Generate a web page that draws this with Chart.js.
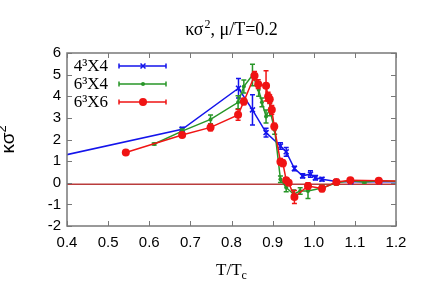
<!DOCTYPE html>
<html>
<head>
<meta charset="utf-8">
<script src="https://cdn.jsdelivr.net/npm/chart.js@4"></script>
<style>
  html, body { margin: 0; padding: 0; background: #fff; }
  #wrap { width: 428px; height: 300px; }
</style>
</head>
<body>
<div id="wrap"><canvas id="chart"></canvas></div>
<script>
// values
const seriesNames = ["4\u00b3X4", "6\u00b3X4", "6\u00b3X6"];

const blueX = [0.34, 0.68, 0.817, 0.851, 0.884, 0.919, 0.933, 0.953, 0.973, 0.992, 1.004, 1.02, 1.055, 1.09, 1.16, 1.22];
const blueY = [1.05, 2.47, 4.37, 3.37, 2.32, 1.70, 1.43, 0.66, 0.32, 0.40, 0.23, 0.16, 0.06, 0.05, 0.05, 0.05];
const blueErr = [0, 0.1, 0.45, 0.7, 0.2, 0.15, 0.2, 0.1, 0.1, 0.15, 0.1, 0.08, 0.05, 0.05, 0.05, 0];

const greenX = [0.612, 0.68, 0.749, 0.816, 0.83, 0.851, 0.866, 0.874, 0.884, 0.893, 0.905, 0.919, 0.933, 0.951, 0.967, 0.986, 1.02, 1.055, 1.089, 1.123, 1.158, 1.22];
const greenY = [1.79, 2.39, 2.93, 3.72, 4.45, 4.98, 4.3, 3.72, 3.06, 3.4, 2.44, 0.16, -0.22, -0.53, -0.38, -0.38, -0.24, 0.0, 0.09, 0.04, 0.09, 0.05];
const greenErr = [0.05, 0.1, 0.2, 0.3, 0.3, 0.5, 0.3, 0.2, 0.3, 0.3, 0.2, 0.15, 0.2, 0.2, 0.15, 0.35, 0.15, 0.1, 0.05, 0.05, 0.05, 0];

const redX = [0.543, 0.68, 0.749, 0.816, 0.83, 0.856, 0.865, 0.884, 0.889, 0.893, 0.898, 0.904, 0.919, 0.925, 0.933, 0.939, 0.953, 0.986, 1.02, 1.055, 1.089, 1.158, 1.22];
const redY = [1.40, 2.21, 2.56, 3.14, 3.76, 4.95, 4.56, 4.48, 3.99, 3.86, 3.37, 2.6, 0.97, 0.9, 0.12, 0.0, -0.66, -0.15, -0.27, 0.04, 0.12, 0.09, 0.07];
const redErr = [0.05, 0.1, 0.15, 0.25, 0.15, 0.2, 0.2, 0.7, 0.2, 0.2, 0.2, 0.15, 0.15, 0.15, 0.1, 0.1, 0.3, 0.15, 0.15, 0.05, 0.05, 0.05, 0];

const refLine = -0.07;

const xMin = 0.4, xMax = 1.2, xStep = 0.1;
const yMin = -2, yMax = 6, yStep = 1;

const BLUE = "rgb(20,20,235)";
const GREEN = "rgb(40,150,40)";
const RED = "rgb(240,20,20)";
const SERIF = "'Liberation Serif', 'DejaVu Serif', serif";
const SANS = "'Liberation Sans', Arial, sans-serif";

function points(xs, ys, errs) {
    return xs.map((x, i) => ({ x: x, y: ys[i], err: errs[i] }));
}

// text pieces with a raised part: [text, size, rise]
function drawPieces(ctx, family, pieces, x, y, align) {
    let total = 0;
    pieces.forEach(p => { ctx.font = p[1] + "px " + family; total += ctx.measureText(p[0]).width; });
    let cx = align === "center" ? x - total / 2 : x;
    ctx.textAlign = "left";
    ctx.textBaseline = "alphabetic";
    pieces.forEach(p => {
        ctx.font = p[1] + "px " + family;
        ctx.fillText(p[0], cx, y - p[2]);
        cx += ctx.measureText(p[0]).width;
    });
}

// draw the error bars of one dataset, through the scales
const errorBars = {
    id: "errorBars",
    afterDatasetDraw(chart, args) {
        const meta = args.meta;
        const ds = chart.data.datasets[args.index];
        const ys = chart.scales.y;
        const area = chart.chartArea;
        const ctx = chart.ctx;
        ctx.save();
        ctx.beginPath();
        ctx.rect(area.left, area.top, area.right - area.left, area.bottom - area.top);
        ctx.clip();
        ctx.strokeStyle = ds.borderColor;
        ctx.lineWidth = 1.5;
        meta.data.forEach((el, i) => {
            const p = ds.data[i];
            if (!p.err) return;
            const top = ys.getPixelForValue(p.y + p.err);
            const bot = ys.getPixelForValue(p.y - p.err);
            ctx.beginPath();
            ctx.moveTo(el.x, top); ctx.lineTo(el.x, bot);
            ctx.moveTo(el.x - 2.5, top); ctx.lineTo(el.x + 2.5, top);
            ctx.moveTo(el.x - 2.5, bot); ctx.lineTo(el.x + 2.5, bot);
            ctx.stroke();
        });
        ctx.restore();
    }
};

// gnuplot style frame, inward ticks, reference line, legend, titles
const frame = {
    id: "frame",
    beforeDatasetsDraw(chart) {
        const ctx = chart.ctx, a = chart.chartArea;
        const py = chart.scales.y.getPixelForValue(refLine);
        ctx.save();
        ctx.strokeStyle = "rgb(185,60,60)";
        ctx.lineWidth = 1.5;
        ctx.beginPath();
        ctx.moveTo(a.left, py); ctx.lineTo(a.right, py);
        ctx.stroke();
        ctx.restore();
    },
    afterDraw(chart) {
        const ctx = chart.ctx, a = chart.chartArea;
        const xs = chart.scales.x, ys = chart.scales.y;
        ctx.save();
        ctx.strokeStyle = "rgb(120,120,120)";
        ctx.lineWidth = 1.5;
        ctx.strokeRect(a.left, a.top, a.right - a.left, a.bottom - a.top);
        ctx.lineWidth = 1;
        ctx.beginPath();
        xs.ticks.forEach(t => {
            const px = Math.round(xs.getPixelForValue(t.value)) + 0.5;
            ctx.moveTo(px, a.bottom); ctx.lineTo(px, a.bottom - 5);
            ctx.moveTo(px, a.top); ctx.lineTo(px, a.top + 5);
        });
        ys.ticks.forEach(t => {
            const py = Math.round(ys.getPixelForValue(t.value)) + 0.5;
            ctx.moveTo(a.left, py); ctx.lineTo(a.left + 5, py);
            ctx.moveTo(a.right, py); ctx.lineTo(a.right - 5, py);
        });
        ctx.stroke();

        // legend
        const colors = [BLUE, GREEN, RED];
        const styles = ["crossRot", "circle", "circle"];
        const radii = [3.5, 2, 4];
        const widths = [1.5, 0, 0];
        seriesNames.forEach((name, i) => {
            const y = 66 + i * 18;
            ctx.fillStyle = "#000";
            ctx.font = "17px " + SERIF;
            ctx.textAlign = "right";
            ctx.textBaseline = "middle";
            ctx.fillText(name, 108, y + 1);
            ctx.strokeStyle = colors[i];
            ctx.fillStyle = colors[i];
            ctx.lineWidth = 1.5;
            ctx.beginPath();
            ctx.moveTo(119, y); ctx.lineTo(166, y);
            ctx.moveTo(119, y - 2.5); ctx.lineTo(119, y + 2.5);
            ctx.moveTo(166, y - 2.5); ctx.lineTo(166, y + 2.5);
            ctx.stroke();
            Chart.helpers.drawPoint(ctx, {
                pointStyle: styles[i], radius: radii[i], borderWidth: widths[i], rotation: 0
            }, 143, y);
        });

        // title
        ctx.fillStyle = "#000";
        const cx = (a.left + a.right) / 2;
        drawPieces(ctx, SERIF, [["\u03ba\u03c3", 18, 0], ["\u200a2", 12, 7], [", \u03bc/T=0.2", 18, 0]], cx, 35, "center");

        // x axis title T/Tc
        drawPieces(ctx, SERIF, [["T/T", 17, 0], ["c", 12, -4]], cx, 275, "center");

        // y axis title
        ctx.save();
        ctx.translate(14, (a.top + a.bottom) / 2 + 14);
        ctx.rotate(-Math.PI / 2);
        drawPieces(ctx, SANS, [["\u03ba\u03c3", 19, 0], ["2", 13, 8]], 0, 0, "left");
        ctx.restore();
        ctx.restore();
    }
};

new Chart(document.getElementById("chart"), {
    type: "scatter",
    data: {
        datasets: [
            { label: seriesNames[0], data: points(blueX, blueY, blueErr), order: 3,
              showLine: true, borderColor: BLUE, backgroundColor: BLUE, borderWidth: 1.5,
              pointStyle: "crossRot", pointRadius: 3.5, pointBorderWidth: 1.5 },
            { label: seriesNames[1], data: points(greenX, greenY, greenErr), order: 2,
              showLine: true, borderColor: GREEN, backgroundColor: GREEN, borderWidth: 1.5,
              pointStyle: "circle", pointRadius: 2, pointBorderWidth: 0 },
            { label: seriesNames[2], data: points(redX, redY, redErr), order: 1,
              showLine: true, borderColor: RED, backgroundColor: RED, borderWidth: 1.5,
              pointStyle: "circle", pointRadius: 4, pointBorderWidth: 0 }
        ]
    },
    options: {
        responsive: true,
        maintainAspectRatio: false,
        animation: false,
        layout: { padding: { left: 0, right: 32, top: 53, bottom: 0 } },
        plugins: {
            legend: { display: false },
            tooltip: { enabled: false },
            title: { display: false }
        },
        scales: {
            x: {
                type: "linear", min: xMin, max: xMax,
                grid: { display: false, drawTicks: false },
                border: { display: false },
                ticks: { stepSize: xStep, padding: 8, color: "#000",
                         font: { family: SANS, size: 15 } },
                afterFit(scale) { scale.height = 74; }
            },
            y: {
                type: "linear", min: yMin, max: yMax,
                grid: { display: false, drawTicks: false },
                border: { display: false },
                ticks: { stepSize: yStep, padding: 6, color: "#000",
                         font: { family: SANS, size: 15 } },
                afterFit(scale) { scale.width = 67; }
            }
        }
    },
    plugins: [errorBars, frame]
});
</script>
</body>
</html>
